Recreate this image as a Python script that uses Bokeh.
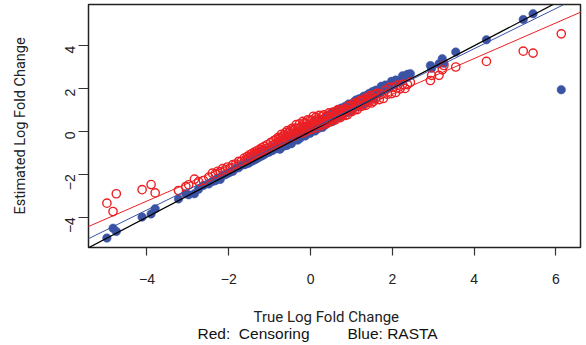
import math
from bokeh.plotting import figure
from bokeh.layouts import column
from bokeh.models import FixedTicker, Slope, ColumnDataSource
from bokeh.core.properties import value
from bokeh.embed import file_html
from bokeh.resources import INLINE

# ---- data ----
true_lfc = [
    -4.98, -4.83, -4.75, -4.12, -3.90, -3.80, -3.23, -3.05, -2.98, -2.84, -2.74, -2.62, -2.49, -2.40,
    -2.33, -2.27, -2.21, -2.15, -2.09, -2.03, -1.97, -1.90, -1.83, -1.76, -1.69, -1.62,
    -1.58, -1.55, -1.52, -1.49, -1.46, -1.43, -1.40, -1.37, -1.34, -1.31, -1.28, -1.25, -1.22,
    -1.19, -1.16, -1.13, -1.10, -1.06, -1.02, -0.98, -0.94, -0.90, -0.87, -0.84, -0.81,
    -0.79, -0.77, -0.75, -0.73, -0.71, -0.69, -0.67, -0.65, -0.63, -0.61,
    -0.59, -0.57, -0.55, -0.53, -0.51, -0.49, -0.47, -0.45, -0.43, -0.41,
    -0.39, -0.37, -0.35, -0.33, -0.31, -0.29, -0.27, -0.25, -0.23, -0.21,
    -0.19, -0.17, -0.15, -0.13, -0.11, -0.09, -0.07, -0.05, -0.03, -0.01,
    0.01, 0.03, 0.05, 0.07, 0.09, 0.11, 0.13, 0.15, 0.17, 0.19,
    0.21, 0.23, 0.25, 0.27, 0.29, 0.31, 0.33, 0.35, 0.37, 0.39,
    0.41, 0.43, 0.45, 0.47, 0.49, 0.51, 0.53, 0.55, 0.57, 0.59,
    0.61, 0.63, 0.65, 0.67, 0.69, 0.71, 0.73, 0.75, 0.77, 0.79,
    0.82, 0.85, 0.87, 0.90, 0.93, 0.95, 0.98, 1.01, 1.03, 1.06, 1.09, 1.11, 1.14, 1.17, 1.19,
    1.22, 1.25, 1.27, 1.30, 1.33, 1.35, 1.38, 1.41, 1.43, 1.46, 1.49, 1.51, 1.54, 1.57, 1.59,
    1.63, 1.68, 1.73, 1.78, 1.83, 1.88, 1.93, 1.98, 2.03, 2.08, 2.13, 2.19, 2.25, 2.31, 2.37,
    2.44, 2.93, 2.96, 3.14, 3.22, 3.26, 3.55, 4.30, 5.20, 5.44, 6.13,
]

est_censoring = [
    -3.35, -3.74, -2.91, -2.72, -2.48, -2.87, -2.76, -2.57, -2.49, -2.23, -2.34, -2.29, -2.13, -1.95,
    -1.98, -1.86, -1.88, -1.74, -1.79, -1.66, -1.70, -1.55, -1.53, -1.40, -1.39, -1.24,
    -1.31, -1.17, -1.24, -1.09, -1.18, -1.03, -1.12, -0.96, -1.05, -0.90, -0.99, -0.84, -0.93,
    -0.76, -0.88, -0.70, -0.81, -0.62, -0.74, -0.52, -0.66, -0.43, -0.60, -0.36, -0.55,
    -0.28, -0.53, -0.31, -0.42, -0.13, -0.48, -0.25, -0.15, -0.35, -0.05,
    -0.23, 0.04, -0.32, -0.04, -0.31, 0.06, -0.08, 0.15, -0.14, 0.07,
    -0.21, 0.16, 0.32, -0.01, 0.13, -0.08, 0.35, 0.00, 0.24, -0.08,
    0.47, 0.18, 0.40, -0.02, 0.36, 0.17, 0.54, 0.10, 0.35, 0.53,
    0.09, 0.52, 0.34, 0.71, 0.26, 0.50, 0.67, 0.17, 0.58, 0.38,
    0.75, 0.31, 0.56, 0.28, 0.72, 0.50, 0.78, 0.44, 0.67, 0.37,
    0.74, 0.45, 0.87, 0.62, 0.45, 0.83, 0.60, 0.91, 0.56, 0.79,
    0.54, 0.95, 0.72, 1.02, 0.67, 0.92, 0.65, 0.99, 0.89, 0.77,
    1.05, 0.75, 1.00, 0.78, 1.20, 0.95, 1.18, 0.93, 1.13, 1.32, 1.03, 1.27, 1.02, 1.38, 1.21,
    1.45, 1.17, 1.41, 1.24, 1.55, 1.22, 1.46, 1.59, 1.36, 1.67, 1.33, 1.59, 1.41, 1.72, 1.52,
    1.79, 1.49, 1.74, 1.54, 1.93, 1.74, 2.06, 1.77, 2.06, 1.82, 2.16, 1.99, 2.20, 2.01, 2.19,
    2.30, 2.38, 2.62, 2.62, 2.88, 3.08, 3.01, 3.27, 3.75, 3.66, 4.56,
]

est_rasta = [
    -4.98, -4.52, -4.67, -4.00, -3.85, -3.61, -3.15, -2.91, -2.96, -2.91, -2.70, -2.52, -2.45, -2.34,
    -2.30, -2.18, -2.24, -2.05, -2.02, -1.96, -1.90, -1.86, -1.72, -1.70, -1.58, -1.55,
    -1.52, -1.40, -1.49, -1.33, -1.41, -1.29, -1.36, -1.18, -1.30, -1.14, -1.23, -1.06, -1.17,
    -1.00, -1.11, -0.95, -1.04, -0.88, -0.97, -0.80, -0.90, -0.72, -0.82, -0.66, -0.77,
    -0.77, -0.50, -0.83, -0.56, -0.41, -0.71, -0.47, -0.58, -0.30, -0.66,
    -0.36, -0.64, -0.41, -0.21, -0.47, -0.23, -0.57, -0.27, -0.43, -0.12,
    -0.30, -0.03, -0.39, -0.12, -0.40, -0.04, -0.14, -0.31, 0.08, -0.16,
    0.09, -0.16, 0.18, -0.21, 0.05, 0.15, -0.10, 0.27, 0.03, -0.08,
    0.21, 0.02, 0.35, 0.17, 0.43, 0.02, 0.35, 0.18, 0.44, 0.14,
    0.36, 0.54, 0.23, 0.50, 0.19, 0.50, 0.61, 0.43, 0.31, 0.72,
    0.45, 0.68, 0.77, 0.44, 0.67, 0.52, 0.87, 0.48, 0.78, 0.88,
    0.68, 0.96, 0.64, 0.89, 0.99, 0.67, 0.89, 1.09, 0.80, 1.05,
    0.85, 1.18, 1.04, 0.89, 1.28, 1.05, 1.27, 0.97, 1.27, 1.38, 1.16, 1.47, 1.15, 1.38, 1.53,
    1.26, 1.53, 1.24, 1.65, 1.51, 1.35, 1.69, 1.54, 1.77, 1.51, 1.76, 1.86, 1.52, 1.80, 1.92,
    1.93, 1.76, 2.11, 1.93, 2.17, 2.10, 2.03, 2.34, 2.20, 2.40, 2.38, 2.31, 2.60, 2.53, 2.67,
    2.70, 3.08, 2.95, 3.16, 3.40, 3.19, 3.71, 4.28, 5.23, 5.50, 1.95,
]

assert len(true_lfc) == len(est_censoring) == len(est_rasta)

# fitted lines: identity (black), RASTA (blue), Censoring (red)
fit_names = ["identity", "RASTA", "Censoring"]
fit_slopes = [1.0, 0.941, 0.832]
fit_intercepts = [0.0, 0.10, 0.078]

x_ticks = [-4, -2, 0, 2, 4, 6]
x_tick_labels = ["\u22124", "\u22122", "0", "2", "4", "6"]
y_ticks = [-4, -2, 0, 2, 4]
y_tick_labels = ["\u22124", "\u22122", "0", "2", "4"]

x_title = "True Log Fold Change"
y_title = "Estimated Log Fold Change"
key_texts = ["Red:\u00a0\u00a0Censoring", "Blue: RASTA"]

RED = "#ED2024"
BLUE = "#3A53A4"
FONT = "Liberation Sans"
TITLE_FONT = "Roboto"

W = 586
H_MAIN = 297
H_KEY = 48
FRAME_L = 88
FRAME_R = 580

p = figure(width=W, height=H_MAIN, output_backend="svg", toolbar_location=None,
           x_range=(-5.43, 6.60), y_range=(-5.42, 5.93),
           min_border_left=FRAME_L, min_border_right=W - FRAME_R, min_border_top=4,
           min_border_bottom=50)
p.background_fill_color = "white"
p.border_fill_color = "white"
p.outline_line_color = "#222222"
p.outline_line_width = 1.5
p.xgrid.visible = False
p.ygrid.visible = False

src = ColumnDataSource(dict(x=true_lfc, red=est_censoring, blue=est_rasta))
p.scatter("x", "blue", source=src, size=8.5, fill_color=BLUE, line_color=BLUE, line_width=0.5)
p.scatter("x", "red", source=src, size=8.3, fill_color=None, line_color=RED, line_width=1.4)

for name, m, b in zip(fit_names, fit_slopes, fit_intercepts):
    col = {"identity": "black", "RASTA": BLUE, "Censoring": RED}[name]
    p.add_layout(Slope(gradient=m, y_intercept=b, line_color=col,
                       line_width=1.3 if name == "identity" else 1.0))

for ax, ticks, labels in ((p.xaxis[0], x_ticks, x_tick_labels), (p.yaxis[0], y_ticks, y_tick_labels)):
    ax.ticker = FixedTicker(ticks=ticks)
    ax.major_label_overrides = {t: l for t, l in zip(ticks, labels)}
    ax.axis_line_color = None
    ax.major_tick_in = 0
    ax.minor_tick_line_color = None
    ax.major_tick_line_color = "#333333"
    ax.major_tick_line_width = 1.2
    ax.major_label_text_font = FONT
    ax.major_label_text_font_size = "14px"
    ax.major_label_text_color = "#222222"

p.xaxis.major_tick_out = 8
p.xaxis.major_label_standoff = 18
p.yaxis.major_tick_out = 10
p.yaxis.major_label_standoff = 8
p.yaxis.major_label_orientation = math.pi / 2

p.yaxis.axis_label = y_title
p.yaxis.axis_label_text_font = TITLE_FONT
p.yaxis.axis_label_text_font_size = "14.5px"
p.yaxis.axis_label_text_font_style = "normal"
p.yaxis.axis_label_text_color = "#222222"
p.yaxis.axis_label_standoff = 29

# strip below the plot for the x-axis title and the colour key.
# The column aligns this strip's frame with the plot frame, so its x range
# is given in page pixels over the frame's span.
k = figure(width=W, height=H_KEY, output_backend="svg", toolbar_location=None,
           x_range=(FRAME_L, FRAME_R), y_range=(H_KEY, 0),
           min_border_left=FRAME_L, min_border_right=W - FRAME_R,
           min_border_top=0, min_border_bottom=0)
k.axis.visible = False
k.grid.visible = False
k.outline_line_color = None
k.background_fill_color = "white"
k.border_fill_color = "white"
k.text(x=[253], y=[19], text=[x_title], text_align="left", text_baseline="middle",
       text_font=value(TITLE_FONT), text_font_size="15px", text_color="#222222")
k.text(x=[197, 347], y=[36, 36], text=key_texts, text_align="left", text_baseline="middle",
       text_font=value(FONT), text_font_size="15.5px", text_color="#111111")

layout = column(p, k, spacing=0)
open("out.html", "w").write(file_html(layout, INLINE))
